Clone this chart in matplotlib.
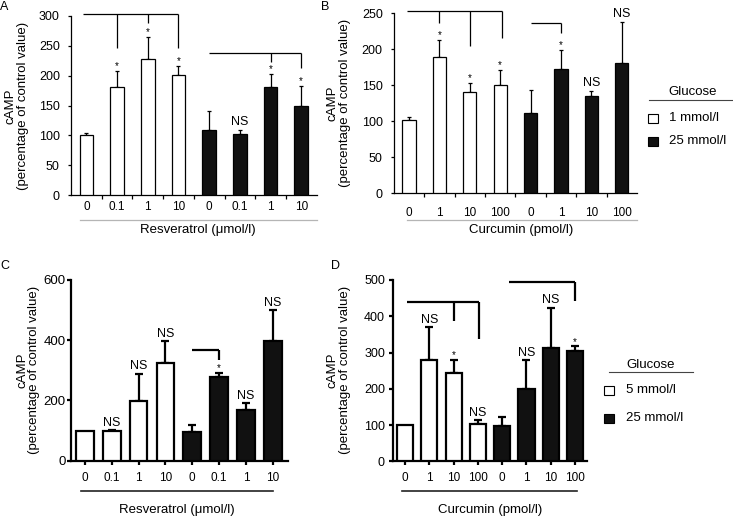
import matplotlib
matplotlib.use('Agg')
import matplotlib.pyplot as plt
from matplotlib.lines import Line2D
from matplotlib.patches import Rectangle

plt.rcParams['font.family'] = ['Liberation Sans', 'DejaVu Sans']

W, H = 733, 517

# ---------------- data ----------------
labels_res = ['0', '0.1', '1', '10', '0', '0.1', '1', '10']
labels_cur = ['0', '1', '10', '100', '0', '1', '10', '100']
groups = ['white'] * 4 + ['black'] * 4

vals_A = [100, 181, 228, 201, 109, 102, 181, 149]
errs_A = [4, 26, 36, 15, 32, 7, 21, 34]
sig_A = ['', '*', '*', '*', '', 'NS', '*', '*']

vals_B = [101, 189, 140, 150, 111, 172, 135, 181]
errs_B = [5, 23, 13, 21, 32, 27, 7, 57]
sig_B = ['', '*', '*', '*', '', '*', 'NS', 'NS']

vals_C = [99, 98, 197, 323, 94, 279, 169, 396]
errs_C = [0, 4, 92, 75, 26, 13, 22, 104]
sig_C = ['', 'NS', 'NS', 'NS', '', '*', 'NS', 'NS']

vals_D = [100, 278, 243, 102, 97, 200, 312, 304]
errs_D = [0, 92, 37, 11, 24, 79, 112, 14]
sig_D = ['', 'NS', '*', 'NS', '', 'NS', 'NS', '*']

# brackets: (x_start, x_end, y_top, [(x_drop, y_bottom), ...])
br_A = [(-0.1, 3, 304, [(1, 246), (2, 288), (3, 246)]),
        (4, 7, 238, [(6, 223), (7, 213)])]
br_B = [(-0.07, 3.05, 253, [(1, 236), (2, 204), (3.05, 215)]),
        (4, 5, 236, [(5, 222)])]
br_C = [(4, 5, 366, [(5, 333)])]
br_D = [(0.1, 3.05, 440, [(2, 387), (3.05, 337)]),
        (4.3, 7, 494, [(7, 442)])]


def fx(x):
    return x / W


def fy(y):
    return 1 - y / H


def add_ax(left, top, right, bottom):
    return fig.add_axes([fx(left), fy(bottom), (right - left) / W, (bottom - top) / H])


fig = plt.figure(figsize=(W / 100, H / 100), dpi=100)


def panel(ax, vals, errs, sigs, brs, labels, ylim, yticks, xlim, style):
    lw = style['lw']
    x = list(range(len(vals)))
    colors = ['white' if g == 'white' else '#111111' for g in groups]
    ax.bar(x, vals, width=style['bw'], color=colors, edgecolor='black',
           linewidth=lw, zorder=3)
    ex = [i for i in x if errs[i] > 0]
    ax.errorbar(ex, [vals[i] for i in ex], yerr=[[0] * len(ex), [errs[i] for i in ex]],
                fmt='none', ecolor='black', elinewidth=lw, capsize=style['cap'],
                capthick=lw, zorder=2)
    for i in x:
        s = sigs[i]
        if not s:
            continue
        top = vals[i] + errs[i]
        if s == '*':
            ax.annotate(s, (i, top), xytext=(0, style['star_off']), textcoords='offset points',
                        ha='center', va='baseline', fontsize=7, annotation_clip=False)
        else:
            ax.annotate(s, (i, top), xytext=(0, style['ns_off']), textcoords='offset points',
                        ha='center', va='baseline', fontsize=9, annotation_clip=False)
    for (x0, x1, yt, drops) in brs:
        ax.plot([x0, x1], [yt, yt], color='black', lw=lw, clip_on=False, solid_capstyle='butt')
        for (xd, yb) in drops:
            ax.plot([xd, xd], [yt, yb], color='black', lw=lw, clip_on=False, solid_capstyle='butt')
    ax.set_xlim(*xlim)
    ax.set_ylim(*ylim)
    ax.set_yticks(yticks)
    ax.set_yticklabels([str(t) for t in yticks], fontsize=style['yfs'])
    ax.set_xticks(x)
    ax.set_xticklabels(labels, fontsize=8.5)
    for sp in ['top', 'right']:
        ax.spines[sp].set_visible(False)
    for sp in ['left', 'bottom']:
        ax.spines[sp].set_linewidth(lw)
    ax.tick_params(axis='y', direction='out', length=style['ytl'], width=lw, pad=style['ypad'])
    if style['boundary_ticks']:
        ax.set_xticks([i + 0.5 for i in x[:-1]], minor=True)
        ax.tick_params(axis='x', which='major', length=0, pad=style['xpad'])
        ax.tick_params(axis='x', which='minor', direction='out', length=3, width=lw)
    else:
        ax.tick_params(axis='x', which='major', direction='out', length=3, width=lw,
                       pad=style['xpad'])


style_AB = dict(lw=0.9, bw=0.44, cap=1.6, star_off=1.5, ns_off=3.5, ytl=2.5, ypad=5.5,
                boundary_ticks=True, xpad=4, yfs=9)
style_CD = dict(lw=1.6, bw=0.66, cap=3.2, star_off=1.0, ns_off=3.0, ytl=3, ypad=1,
                boundary_ticks=False, xpad=5, yfs=9.5)

axA = add_ax(71, 16, 316.6, 195)
panel(axA, vals_A, errs_A, sig_A, br_A, labels_res, (0, 300), list(range(0, 301, 50)),
      (-0.5, 7.5), style_AB)
axB = add_ax(393.8, 13, 637, 193)
sB = dict(style_AB)
sB['xpad'] = 10
panel(axB, vals_B, errs_B, sig_B, br_B, labels_cur, (0, 250), list(range(0, 251, 50)),
      (-0.5, 7.5), sB)
axC = add_ax(71, 280, 288, 460.7)
panel(axC, vals_C, errs_C, sig_C, br_C, labels_res, (0, 600), [0, 200, 400, 600],
      (-0.52, 7.57), style_CD)
axD = add_ax(393.3, 280, 587, 461.3)
sD = dict(style_CD)
sD['ypad'] = 3
sD['yfs'] = 9
panel(axD, vals_D, errs_D, sig_D, br_D, labels_cur, (0, 500), list(range(0, 501, 100)),
      (-0.48, 7.49), sD)


def hline(x0, x1, y, color, lw):
    fig.add_artist(Line2D([fx(x0), fx(x1)], [fy(y), fy(y)], transform=fig.transFigure,
                          color=color, lw=lw))


def txt(x, y, s, **kw):
    fig.text(fx(x), fy(y), s, **kw)


# x-axis group lines and labels
hline(80, 317, 220, '#b5b5b5', 0.9)
hline(407, 637, 220, '#b5b5b5', 0.9)
hline(81, 273, 490.7, '#222222', 1.2)
hline(402, 577, 491, '#222222', 1.2)
txt(198, 230, 'Resveratrol (μmol/l)', ha='center', va='center', fontsize=9.5)
txt(521, 230, 'Curcumin (pmol/l)', ha='center', va='center', fontsize=9.5)
txt(177, 510, 'Resveratrol (μmol/l)', ha='center', va='center', fontsize=9.5)
txt(490, 510, 'Curcumin (pmol/l)', ha='center', va='center', fontsize=9.5)

# y labels
for (x1, x2, yc) in [(11, 23, 106), (333, 345, 103), (22, 34, 370), (333, 345, 370)]:
    txt(x1, yc, 'cAMP', rotation=90, ha='center', va='center', fontsize=9.5)
    txt(x2, yc, '(percentage of control value)', rotation=90, ha='center', va='center',
        fontsize=9.5)

# panel letters
for (x, y, s) in [(4.5, 7, 'A'), (325, 7, 'B'), (4.5, 266, 'C'), (336, 266, 'D')]:
    txt(x, y, s, ha='center', va='center', fontsize=9)

# legends
legend_items_1 = ['1 mmol/l', '25 mmol/l']
legend_items_2 = ['5 mmol/l', '25 mmol/l']


def legend(cx_title, y_title, line_x0, line_x1, y_line, sq_x, text_x, ys, items):
    txt(cx_title, y_title, 'Glucose', ha='center', va='center', fontsize=9.5)
    hline(line_x0, line_x1, y_line, '#444444', 0.8)
    for (yy, item, fc) in zip(ys, items, ['white', '#111111']):
        fig.add_artist(Rectangle((fx(sq_x), fy(yy + 4.5)), 10 / W, 9 / H,
                                 transform=fig.transFigure, facecolor=fc,
                                 edgecolor='black', lw=0.8))
        txt(text_x, yy, item, ha='left', va='center', fontsize=9.5)


legend(693, 92, 649, 733, 100, 648, 669, [118, 141], legend_items_1)
legend(651, 365, 609, 693, 372, 604, 626, [390, 418], legend_items_2)

fig.savefig('out.png', dpi=100)
